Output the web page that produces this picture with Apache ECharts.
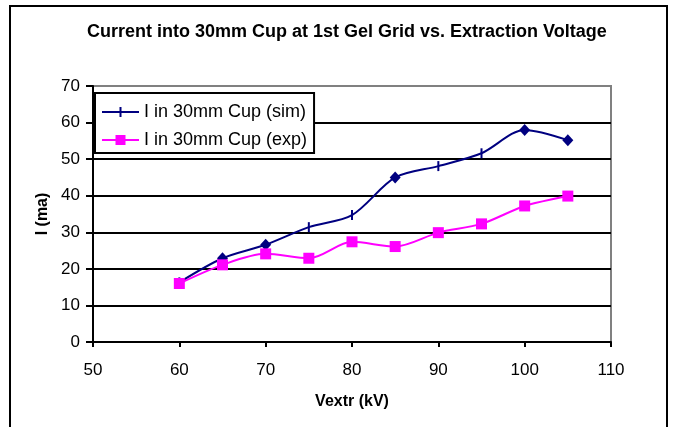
<!DOCTYPE html>
<html>
<head>
<meta charset="utf-8">
<script src="https://cdn.jsdelivr.net/npm/echarts@6/dist/echarts.min.js"></script>
<style>html,body{margin:0;padding:0;background:#fff;}#c{width:675px;height:427px;}</style>
</head>
<body>
<div id="c"></div>
<script>
var voltage = [60, 65, 70, 75, 80, 85, 90, 95, 100, 105];
var simCurrent = [16.3, 22.9, 26.6, 31.4, 34.7, 45.0, 48.1, 51.6, 58.0, 55.2];
var expCurrent = [16.0, 21.1, 24.1, 22.9, 27.4, 26.1, 29.9, 32.3, 37.2, 39.9];
var simMarkers = ['tick', 'diamond', 'diamond', 'tick', 'tick', 'diamond', 'tick', 'tick', 'diamond', 'diamond'];
var xTicks = [50, 60, 70, 80, 90, 100, 110];
var yTicks = [0, 10, 20, 30, 40, 50, 60, 70];
var seriesNames = ['I in 30mm Cup (sim)', 'I in 30mm Cup (exp)'];
var titleText = 'Current into 30mm Cup at 1st Gel Grid vs. Extraction Voltage';

var FONT = '"Liberation Sans", Arial, sans-serif';
var simData = voltage.map(function (v, i) {
  var m = simMarkers[i];
  return {
    value: [v, simCurrent[i]],
    symbol: m === 'tick' ? 'rect' : 'diamond',
    symbolSize: m === 'tick' ? [2, 10] : [11, 12]
  };
});
var expData = voltage.map(function (v, i) { return [v, expCurrent[i]]; });

var splitColors = yTicks.map(function (t, i) { return i === yTicks.length - 1 ? '#808080' : '#000'; });

var chart = echarts.init(document.getElementById('c'), null, {renderer: 'canvas'});
chart.setOption({
  animation: false,
  backgroundColor: '#fff',
  title: {
    text: titleText,
    left: 87, top: 23, padding: 0,
    textStyle: {fontFamily: FONT, fontSize: 18, fontWeight: 'bold', color: '#000'}
  },
  grid: {
    left: 93, right: 64, top: 86, bottom: 85,
    show: true, borderColor: '#808080', borderWidth: 2, backgroundColor: 'transparent'
  },
  legend: {
    orient: 'vertical',
    left: 95, top: 93,
    padding: [10, 7, 4, 7],
    itemGap: 10,
    itemWidth: 37, itemHeight: 10,
    borderColor: '#000', borderWidth: 2,
    backgroundColor: '#fff',
    textStyle: {fontFamily: FONT, fontSize: 18, color: '#000'},
    data: [
      {name: seriesNames[0], icon: 'path://M0,4H37V6H0Z M17.5,0H19.5V10H17.5Z'},
      {name: seriesNames[1], icon: 'path://M0,4H37V6H0Z M13.5,0H23.5V10H13.5Z'}
    ]
  },
  xAxis: {
    type: 'value', min: xTicks[0], max: xTicks[xTicks.length - 1], interval: 10,
    name: 'Vextr (kV)', nameLocation: 'middle', nameGap: 52,
    nameTextStyle: {fontFamily: FONT, fontSize: 16, fontWeight: 'bold', color: '#000'},
    axisLine: {show: true, onZero: false, lineStyle: {color: '#000', width: 2}},
    axisTick: {show: true, inside: false, length: 5, lineStyle: {color: '#000', width: 2}},
    axisLabel: {fontFamily: FONT, fontSize: 17, color: '#000', margin: 20},
    splitLine: {show: false}
  },
  yAxis: {
    type: 'value', min: yTicks[0], max: yTicks[yTicks.length - 1], interval: 10,
    name: 'I (ma)', nameLocation: 'middle', nameGap: 42, nameRotate: 90,
    nameTextStyle: {fontFamily: FONT, fontSize: 16, fontWeight: 'bold', color: '#000'},
    axisLine: {show: true, lineStyle: {color: '#000', width: 2}},
    axisTick: {show: true, inside: false, length: 7, lineStyle: {color: '#000', width: 2}},
    axisLabel: {fontFamily: FONT, fontSize: 17, color: '#000', margin: 13},
    splitLine: {show: true, lineStyle: {color: splitColors, width: 2}}
  },
  series: [
    {
      name: seriesNames[0], type: 'line', data: simData, smooth: 0.3,
      color: '#000080',
      lineStyle: {color: '#000080', width: 2},
      itemStyle: {color: '#000080'},
      z: 3
    },
    {
      name: seriesNames[1], type: 'line', data: expData, smooth: 0.3,
      color: '#FF00FF',
      symbol: 'rect', symbolSize: 11,
      lineStyle: {color: '#FF00FF', width: 2},
      itemStyle: {color: '#FF00FF'},
      z: 4
    }
  ],
  graphic: [{
    type: 'rect', silent: true, z: 100,
    shape: {x: 10, y: 6, width: 657, height: 440},
    style: {fill: 'none', stroke: '#000', lineWidth: 2}
  }]
});
</script>
</body>
</html>
